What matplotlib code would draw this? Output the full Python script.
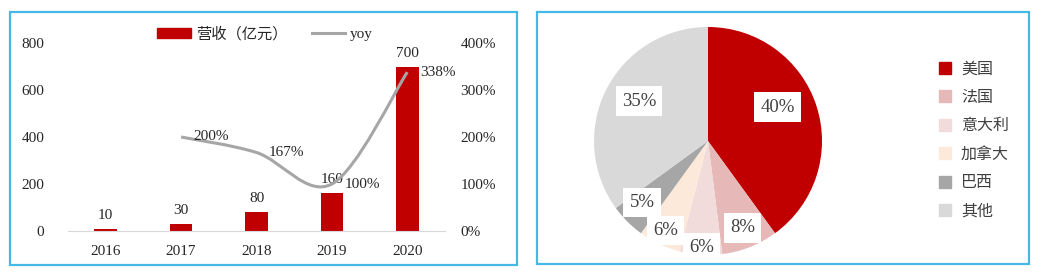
import matplotlib
matplotlib.use("Agg")
import matplotlib.pyplot as plt
import numpy as np
from matplotlib.path import Path
from matplotlib.patches import PathPatch, Rectangle, Patch
from matplotlib.lines import Line2D

plt.rcParams['font.family'] = ['Liberation Serif', 'Noto Sans CJK SC', 'DejaVu Sans']

# ---- data ----
years = ['2016', '2017', '2018', '2019', '2020']
revenue = [10, 30, 80, 160, 700]
yoy_years = ['2017', '2018', '2019', '2020']
yoy = [200, 167, 100, 338]
rev_ticks = [0, 200, 400, 600, 800]
yoy_ticks = [0, 100, 200, 300, 400]

countries = ['美国', '法国', '意大利', '加拿大', '巴西', '其他']
shares = [40, 8, 6, 6, 5, 35]
pie_colors = ['#C00000', '#E6B8B7', '#F2DCDB', '#FDE9D9', '#A6A6A6', '#D9D9D9']

RED = '#C00000'
GRAY = '#A6A6A6'
TXT = '#262626'
BORDER = '#45B8E6'

W, H = 1041, 275
fig = plt.figure(figsize=(W / 100, H / 100), dpi=100)

def fx(px):
    return px / W

def fy(py):
    return 1 - py / H

# panel borders
for (x0, y0, x1, y1) in [(10, 12, 517, 265), (537, 12, 1029, 264)]:
    fig.patches.append(Rectangle((fx(x0), fy(y1)), fx(x1 - x0), (y1 - y0) / H,
                                 transform=fig.transFigure, fill=False,
                                 edgecolor=BORDER, linewidth=1.6))

# ---- left: bar + line ----
ax = fig.add_axes([fx(68), fy(231), fx(445 - 68), (231 - 43) / H])
x = np.arange(len(years))
ax.bar(x, revenue, width=0.3, color=RED, zorder=2)
ax.set_xlim(-0.5, len(years) - 0.5)
ax.set_ylim(0, 800)
ax.set_yticks(rev_ticks)
ax.set_xticks(x)
ax.set_xticklabels(years)
for s in ['top', 'right', 'left']:
    ax.spines[s].set_visible(False)
ax.spines['bottom'].set_color('#D9D9D9')
ax.tick_params(axis='both', length=0, labelsize=11, colors=TXT)
ax.tick_params(axis='y', pad=17)
ax.tick_params(axis='x', pad=10)
for xi, v in zip(x, revenue):
    ax.annotate(str(v), (xi, v), xytext=(0, 5), textcoords='offset points',
                ha='center', va='bottom', fontsize=11, color=TXT)

ax2 = ax.twinx()
ax2.set_ylim(0, 400)
ax2.set_yticks(yoy_ticks)
ax2.set_yticklabels([f'{t}%' for t in yoy_ticks])
for s in ['top', 'right', 'left', 'bottom']:
    ax2.spines[s].set_visible(False)
ax2.tick_params(axis='y', length=0, labelsize=11, colors=TXT, pad=11)

# smooth (Excel-style) line through yoy points
xs = np.array([years.index(y) for y in yoy_years], dtype=float)
ys = np.array(yoy, dtype=float)
pts = np.column_stack([xs, ys])
verts = [tuple(pts[0])]
codes = [Path.MOVETO]
t = 1 / 6
for i in range(len(pts) - 1):
    p0 = pts[i - 1] if i > 0 else pts[i]
    p1 = pts[i]
    p2 = pts[i + 1]
    p3 = pts[i + 2] if i + 2 < len(pts) else pts[i + 1]
    c1 = p1 + (p2 - p0) * t
    c2 = p2 - (p3 - p1) * t
    verts += [tuple(c1), tuple(c2), tuple(p2)]
    codes += [Path.CURVE4] * 3
ax2.add_patch(PathPatch(Path(verts, codes), facecolor='none', edgecolor=GRAY,
                        linewidth=2.2, zorder=3))
for xi, v in zip(xs, ys):
    ax2.annotate(f'{int(v)}%', (xi, v), xytext=(9, 0), textcoords='offset points',
                 ha='left', va='center', fontsize=11, color=TXT)

handles = [Patch(color=RED), Line2D([0], [0], color=GRAY, lw=2.2)]
fig.legend(handles, ['营收（亿元）', 'yoy'], loc='center',
           bbox_to_anchor=(fx(265), fy(34)), ncol=2, frameon=False,
           handlelength=2.2, handleheight=0.7, columnspacing=1.6,
           handletextpad=0.3, labelcolor=TXT,
           prop={'family': ['Liberation Serif', 'Noto Sans CJK SC'], 'size': 11})

# ---- right: pie ----
r_px = 114
cx, cy = 708, 141
axp = fig.add_axes([fx(cx - r_px), fy(cy + r_px), fx(2 * r_px), 2 * r_px / H])
wedges, texts, autotexts = axp.pie(shares, colors=pie_colors, startangle=90,
                                   counterclock=False, autopct='%d%%',
                                   pctdistance=0.7,
                                   textprops={'fontsize': 13.5, 'color': '#404040'})
axp.set_aspect('equal')
axp.set_xlim(-1, 1)
axp.set_ylim(-1, 1)
dists = [0.68, 0.82, 0.94, 0.87, 0.79, 0.70]
angle_off = [8, 0, 0, 0, -2, -3]
for w, at, d, ao in zip(wedges, autotexts, dists, angle_off):
    ang = np.deg2rad((w.theta1 + w.theta2) / 2 + ao)
    at.set_position((d * np.cos(ang), d * np.sin(ang)))
    at.set_bbox(dict(facecolor='white', edgecolor='none', pad=4.5))
    at.set_zorder(5)

lh = [Patch(color=c) for c in pie_colors]
fig.legend(lh, countries, loc='upper left', bbox_to_anchor=(fx(925), fy(46)),
           frameon=False, handlelength=0.75, handleheight=0.75,
           handletextpad=0.6, labelspacing=0.72, labelcolor='#404040',
           prop={'family': ['Noto Sans CJK SC'], 'size': 11.5})

fig.savefig('out.png', dpi=100)
